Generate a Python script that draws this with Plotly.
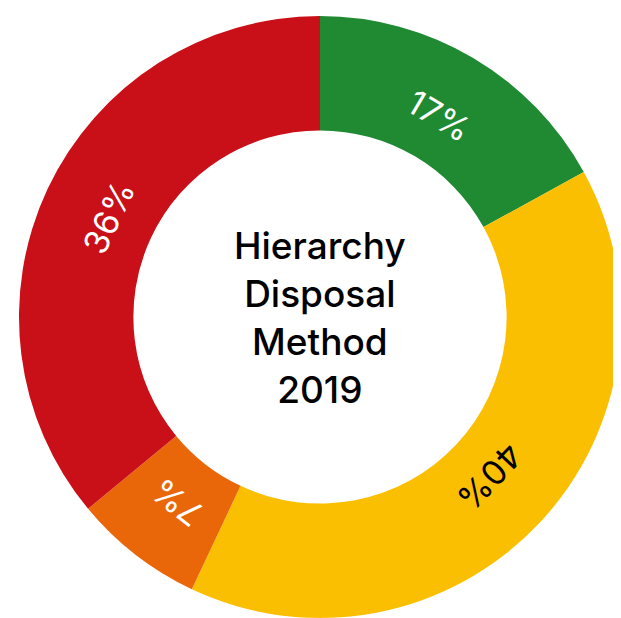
import math
import plotly.graph_objects as go

categories = ["Green", "Yellow", "Orange", "Red"]
values = [17, 40, 7, 36]
colors = ["#1f8a32", "#fbbf02", "#ea6709", "#c90f17"]
label_colors = ["white", "black", "white", "white"]
center_title = "Hierarchy<br>Disposal<br>Method<br>2019"

W, H = 621, 618
dom_x = [0.0177, 0.9871]
dom_y = [0.0129, 0.9871]
hole = 0.62

fig = go.Figure(go.Pie(
    labels=categories,
    values=values,
    sort=False,
    direction="clockwise",
    rotation=0,
    hole=hole,
    marker=dict(colors=colors, line=dict(width=0)),
    textinfo="none",
    hoverinfo="label+percent",
    domain=dict(x=dom_x, y=dom_y),
    showlegend=False,
))

# geometry derived from the pie domain
cx_px = (dom_x[0] + dom_x[1]) / 2 * W
cy_px = (1 - (dom_y[0] + dom_y[1]) / 2) * H
R = min((dom_x[1] - dom_x[0]) * W, (dom_y[1] - dom_y[0]) * H) / 2
r_lab = R * (1 + hole) / 2 - 10

total = sum(values)
cum = 0
for v, col in zip(values, label_colors):
    mid = (cum + v / 2) / total * 360
    cum += v
    a = math.radians(mid)
    px = cx_px + r_lab * math.sin(a)
    py = cy_px - r_lab * math.cos(a)
    fig.add_annotation(
        x=px / W, y=1 - py / H, xref="paper", yref="paper",
        text=f"{round(v / total * 100)}%", showarrow=False,
        textangle=mid, font=dict(family="Inter", size=34, color=col),
        xanchor="center", yanchor="middle",
    )

fig.add_annotation(
    x=cx_px / W, y=1 - cy_px / H, xref="paper", yref="paper",
    text=center_title, showarrow=False,
    font=dict(family="Inter", size=37, color="black", weight=500),
    xanchor="center", yanchor="middle",
)

fig.update_layout(
    width=W, height=H,
    margin=dict(l=0, r=0, t=0, b=0),
    paper_bgcolor="white",
    plot_bgcolor="white",
)

fig.write_html("out.html")
